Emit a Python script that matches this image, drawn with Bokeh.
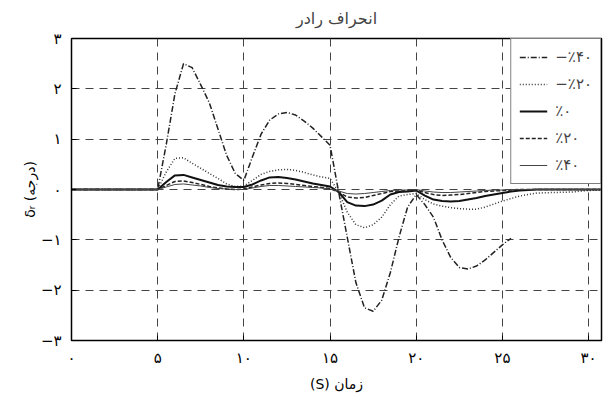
from bokeh.plotting import figure
from bokeh.models import Range1d, Legend, LegendItem, FixedTicker, Title
from bokeh.embed import file_html
from bokeh.resources import INLINE

# time samples (s)
t = [0, 5, 5.5, 6, 6.5, 7, 7.5, 8, 8.5, 9, 9.5, 10, 10.5, 11, 11.5, 12, 12.5, 13, 13.5,
     14, 14.5, 15, 15.5, 16, 16.5, 17, 17.5, 18, 18.5, 19, 19.5, 20, 20.5, 21, 21.5, 22,
     22.5, 23, 23.5, 24, 24.5, 25, 25.5, 26, 27, 28, 29, 30, 30.7]

nan = float("nan")
# rudder deflection (deg) per case
neg40 = [0, 0, 0.9, 1.9, 2.5, 2.42, 2.08, 1.72, 1.2, 0.68, 0.32, 0.18, 0.65, 1.1, 1.38, 1.5,
         1.53, 1.48, 1.36, 1.22, 1.05, 0.88, -0.05, -0.95, -1.85, -2.35, -2.42, -2.2, -1.65,
         -0.95, -0.35, -0.1, -0.3, -0.55, -1.0, -1.35, -1.55, -1.58, -1.52, -1.4, -1.25,
         -1.1, -0.97, nan, nan, nan, nan, nan, nan]
neg20 = [0, 0, 0.35, 0.62, 0.63, 0.52, 0.42, 0.32, 0.22, 0.11, 0.06, 0.07, 0.18, 0.3, 0.36,
         0.39, 0.4, 0.38, 0.34, 0.29, 0.25, 0.22, -0.05, -0.45, -0.7, -0.76, -0.7, -0.55,
         -0.3, -0.13, -0.1, -0.08, -0.2, -0.29, -0.33, -0.36, -0.38, -0.39, -0.39, -0.35,
         -0.29, -0.23, -0.18, -0.13, -0.07, -0.06, -0.05, -0.02, -0.01]
zero = [0, 0, 0.15, 0.28, 0.29, 0.24, 0.19, 0.14, 0.09, 0.06, 0.05, 0.05, 0.1, 0.18, 0.24,
        0.25, 0.23, 0.2, 0.16, 0.12, 0.09, 0.06, -0.05, -0.25, -0.32, -0.33, -0.3, -0.22,
        -0.1, -0.05, -0.04, -0.02, -0.12, -0.2, -0.23, -0.24, -0.23, -0.2, -0.17, -0.13,
        -0.1, -0.07, -0.04, -0.02, 0, 0, 0, 0, 0]
pos20 = [0, 0, 0.08, 0.16, 0.17, 0.14, 0.1, 0.06, 0.03, 0.01, 0, 0.01, 0.05, 0.09, 0.12,
         0.13, 0.12, 0.1, 0.08, 0.06, 0.04, 0.02, -0.05, -0.15, -0.17, -0.16, -0.12, -0.08,
         -0.04, -0.03, -0.02, -0.01, -0.06, -0.1, -0.12, -0.11, -0.1, -0.08, -0.06, -0.04,
         -0.03, -0.02, -0.01, 0, 0, 0, 0, 0, 0]
pos40 = [0, 0, 0.05, 0.1, 0.11, 0.09, 0.07, 0.04, 0.02, 0.01, 0, 0, 0.03, 0.06, 0.08, 0.08,
         0.07, 0.06, 0.05, 0.04, 0.03, 0.01, -0.03, -0.08, -0.09, -0.08, -0.06, -0.04, -0.02,
         -0.01, -0.01, 0, -0.03, -0.05, -0.06, -0.06, -0.05, -0.04, -0.03, -0.02, -0.01,
         -0.01, 0, 0, 0, 0, 0, 0, 0]

series_labels = ["−٪۴۰", "−٪۲۰", "٪۰", "٪۲۰", "٪۴۰"]
x_ticks = [0, 5, 10, 15, 20, 25, 30]
x_tick_labels = ["۰", "۵", "۱۰", "۱۵", "۲۰", "۲۵", "۳۰"]
y_ticks = [-3, -2, -1, 0, 1, 2, 3]
y_tick_labels = ["−۳", "−۲", "−۱", "۰", "۱", "۲", "۳"]

FONT = "DejaVu Sans"

p = figure(width=610, height=403, output_backend="svg", toolbar_location=None,
           x_range=Range1d(0, 30.75), y_range=Range1d(-3, 3),
           min_border_left=71, min_border_right=9, min_border_top=37, min_border_bottom=63)
p.title = Title(text="انحراف رادر", align="center", text_font=FONT,
                text_font_size="16px", text_font_style="normal", offset=0, standoff=17,
                vertical_align="top")
p.background_fill_color = "white"
p.border_fill_color = "white"
p.outline_line_color = "black"
p.outline_line_width = 1.5

for ax in (p.xaxis[0], p.yaxis[0]):
    ax.major_tick_in = 5
    ax.major_tick_out = 0
    ax.minor_tick_line_color = None
    ax.axis_line_color = "black"
    ax.major_label_text_font = FONT
    ax.major_label_text_font_size = "15px"
    ax.major_label_text_color = "black"
    ax.axis_label_text_font = FONT
    ax.axis_label_text_font_size = "14px"
    ax.axis_label_text_font_style = "normal"
    ax.axis_label_text_color = "black"

p.xaxis.ticker = FixedTicker(ticks=x_ticks)
p.xaxis.major_label_overrides = dict(zip(x_ticks, x_tick_labels))
p.yaxis.ticker = FixedTicker(ticks=y_ticks)
p.yaxis.major_label_overrides = dict(zip(y_ticks, y_tick_labels))
p.xaxis.axis_label = "(S) زمان"
p.yaxis.axis_label = "δᵣ (درجه)"
p.xaxis.major_label_standoff = 8
p.xaxis.axis_label_standoff = 6
p.yaxis.major_label_standoff = 10
p.yaxis.axis_label_standoff = 0

for g in (p.xgrid[0], p.ygrid[0]):
    g.grid_line_color = "#444444"
    g.grid_line_dash = "8 6"
    g.grid_line_width = 1
p.xgrid.ticker = FixedTicker(ticks=x_ticks)
p.ygrid.ticker = FixedTicker(ticks=y_ticks)

styles = [
    dict(line_dash="6 2 1 2", line_width=1.5, line_color="#222222"),
    dict(line_dash="1 2", line_width=1.5, line_color="#333333"),
    dict(line_dash="solid", line_width=2, line_color="#111111"),
    dict(line_dash="4 2", line_width=1.5, line_color="#222222"),
    dict(line_dash="solid", line_width=1, line_color="#444444"),
]
items = []
for ys, lab, st in zip([neg40, neg20, zero, pos20, pos40], series_labels, styles):
    r = p.line(t, ys, **st)
    items.append(LegendItem(label=lab, renderers=[r]))

leg = Legend(items=items, location="top_right", margin=0, padding=8, spacing=7,
             glyph_width=28, glyph_height=20, label_standoff=8,
             label_text_font=FONT, label_text_font_size="15px",
             border_line_color="black", border_line_width=1.5,
             background_fill_alpha=1)
p.add_layout(leg)

open("out.html", "w").write(file_html(p, INLINE))
